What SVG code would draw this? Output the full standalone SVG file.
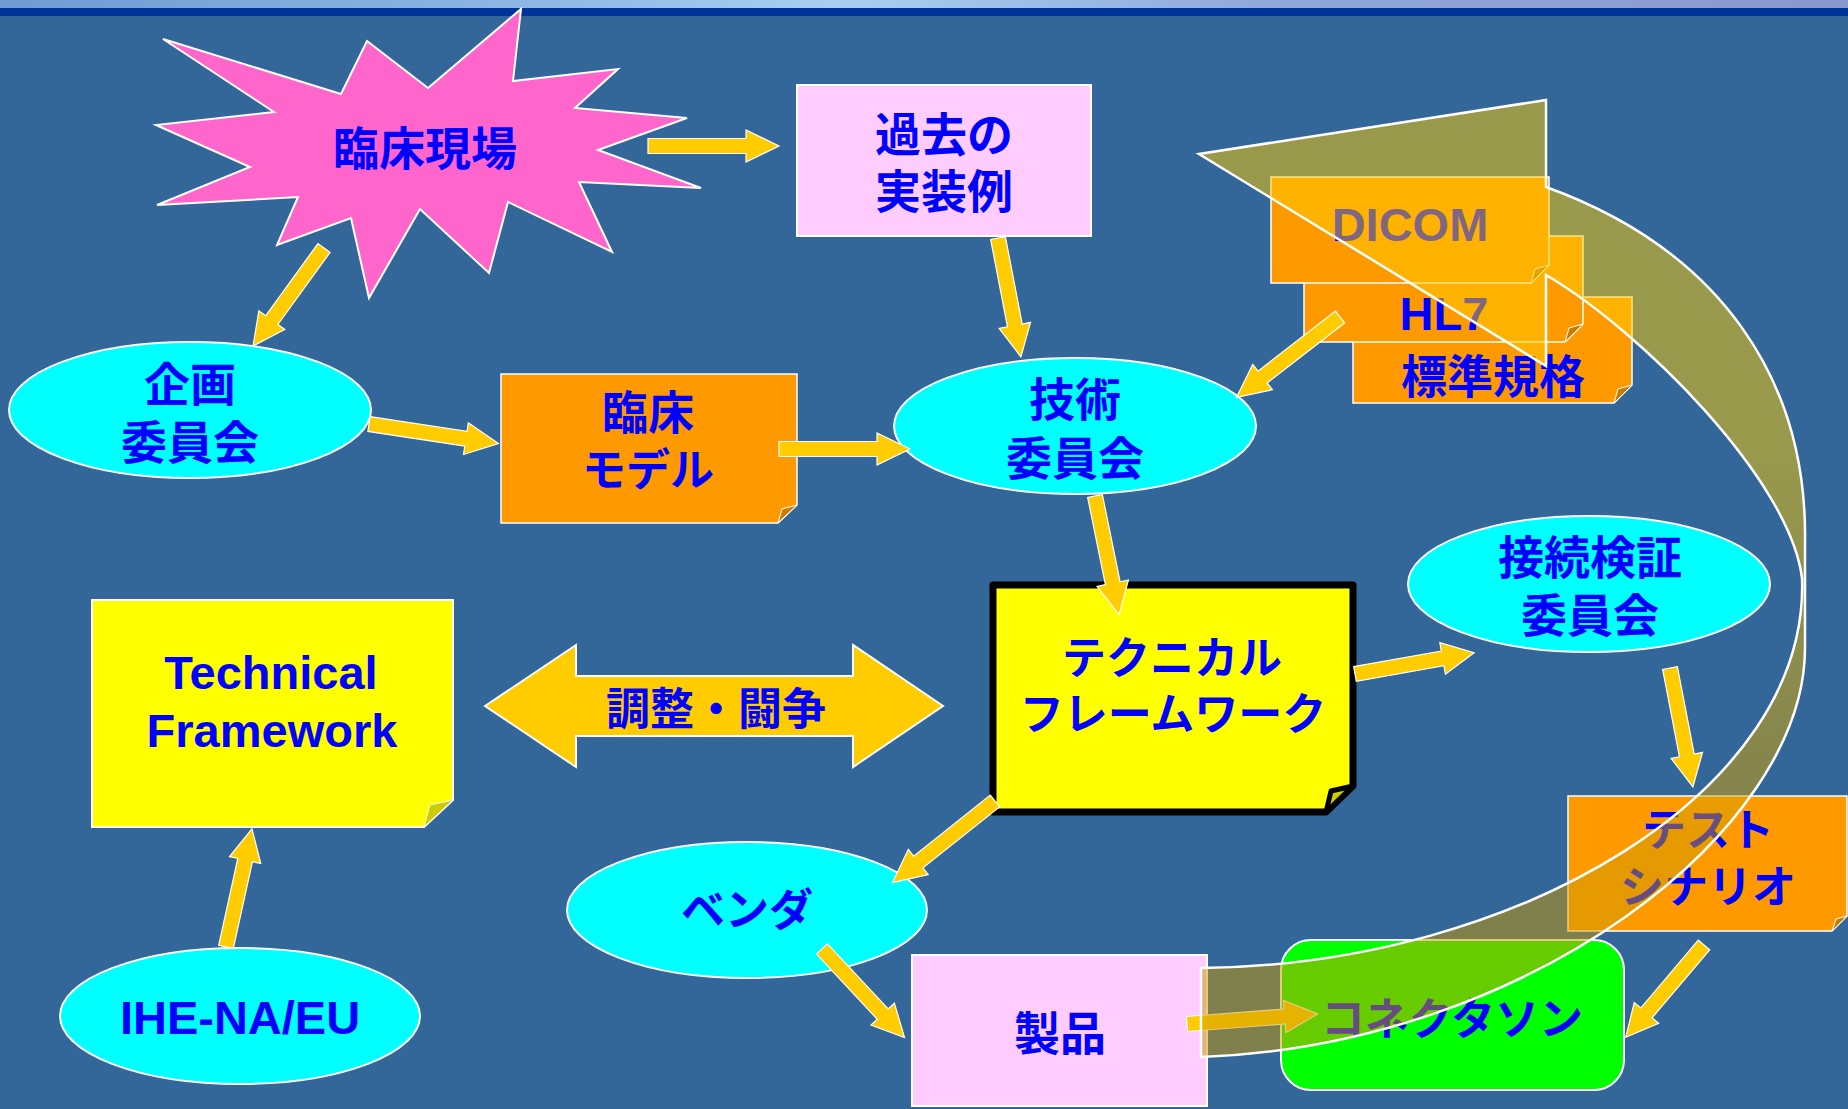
<svg xmlns="http://www.w3.org/2000/svg" width="1848" height="1109" viewBox="0 0 1848 1109">
<style>
.jp{font-family:"Noto Sans CJK JP","Noto Sans CJK SC",sans-serif;font-weight:700;fill:#0000FF;text-anchor:middle}
.en{font-family:"Liberation Sans",Arial,sans-serif;font-weight:700;fill:#0000FF;text-anchor:middle;font-size:47px}
.k{font-size:46px}
.kt{font-size:44px}
.arrow{fill:#FFCC00;stroke:#FFFFFF;stroke-width:1.2}
.ell{fill:#00FFFF;stroke:#FFFFFF;stroke-width:2}
.pink{fill:#FFCCFF;stroke:#FFFFFF;stroke-width:2}
.org{fill:#FF9900;stroke:#FFFFFF;stroke-width:1.5}
.fold{fill:#CC7A00;stroke:#FFFFFF;stroke-width:1}
</style>
<defs>
<linearGradient id="banner" x1="0" y1="0" x2="1" y2="0">
<stop offset="0" stop-color="#6E9BD2"/>
<stop offset="0.3" stop-color="#8FB8E6"/>
<stop offset="0.45" stop-color="#A8CFF2"/>
<stop offset="0.7" stop-color="#8FA6DA"/>
<stop offset="1" stop-color="#8C98D0"/>
</linearGradient>
<linearGradient id="cyc" gradientUnits="userSpaceOnUse" x1="0" y1="450" x2="0" y2="860">
<stop offset="0" stop-color="#FFCC00"/>
<stop offset="1" stop-color="#CC9900"/>
</linearGradient>
<polygon id="a121" class="arrow" points="0,-7.5 89,-7.5 89,-16 121,0 89,16 89,7.5 0,7.5"/>
<polygon id="a131" class="arrow" points="0,-7.5 98,-7.5 98,-16 131,0 98,16 98,7.5 0,7.5"/>
</defs>
<rect x="0" y="0" width="1848" height="1109" fill="#336699"/>
<rect x="0" y="0" width="1848" height="8" fill="url(#banner)"/>
<rect x="0" y="8" width="1848" height="8" fill="#003399"/>

<g id="rinsho-genba">
<polygon points="163,39 341,94 367,41 428,88 521,9 513,81 618,69 575,108 687,118 598,150 701,188 579,182 612,252 508,202 489,273 420,209 369,298 351,218 277,245 298,197 157,205 250,167 156,125 274,112" fill="#FF66CC" stroke="#FFFFFF" stroke-width="2"/>
<text class="jp k" x="425" y="165">臨床現場</text>
</g>

<g id="kako-jissourei">
<rect class="pink" x="797" y="85" width="294" height="151"/>
<text class="jp k" x="944" y="151">過去の</text>
<text class="jp k" x="944" y="208">実装例</text>
</g>

<g id="kikaku-iinkai">
<ellipse class="ell" cx="190" cy="410" rx="181" ry="68"/>
<text class="jp k" x="190" y="401">企画</text>
<text class="jp k" x="190" y="459">委員会</text>
</g>

<g id="rinsho-model">
<path class="org" d="M501,374 H797 V505 L778,523 H501 Z"/>
<polygon class="fold" points="797,505 782,509 778,523"/>
<text class="jp k" x="648" y="429">臨床</text>
<text class="jp kt" x="648" y="486">モデル</text>
</g>

<g id="gijutsu-iinkai">
<ellipse class="ell" cx="1075" cy="426" rx="181" ry="68"/>
<text class="jp k" x="1075" y="416">技術</text>
<text class="jp k" x="1075" y="475">委員会</text>
</g>

<g id="hyojun-kikaku">
<path class="org" d="M1353,297 H1632 V385 L1614,403 H1353 Z"/>
<polygon class="fold" points="1632,385 1618,389 1614,403"/>
<text class="jp k" x="1493" y="393">標準規格</text>
</g>

<g id="hl7">
<path class="org" d="M1304,236 H1583 V324 L1565,342 H1304 Z"/>
<polygon class="fold" points="1583,324 1569,328 1565,342"/>
<text class="en" x="1444" y="330">HL7</text>
</g>

<g id="dicom">
<path class="org" d="M1271,177 H1549 V265 L1531,283 H1271 Z"/>
<polygon class="fold" points="1549,265 1535,269 1531,283"/>
<text class="en" x="1410" y="241">DICOM</text>
</g>

<g id="technical-framework-jp">
<path d="M993,585 H1353 V786 L1326,812 H993 Z" fill="#FFFF00" stroke="#000000" stroke-width="7" stroke-linejoin="round"/>
<polygon points="1353,786 1331,791 1326,812" fill="#CCCC00" stroke="#000000" stroke-width="5" stroke-linejoin="round"/>
<text class="jp kt" x="1172" y="674">テクニカル</text>
<text class="jp kt" x="1173" y="730">フレームワーク</text>
</g>

<g id="setsuzoku-kensho-iinkai">
<ellipse class="ell" cx="1589" cy="584" rx="181" ry="68"/>
<text class="jp k" x="1590" y="574">接続検証</text>
<text class="jp k" x="1590" y="632">委員会</text>
</g>

<g id="technical-framework-en">
<path d="M92,600 H453 V800 L424,827 H92 Z" fill="#FFFF00" stroke="#FFFFFF" stroke-width="2"/>
<polygon points="453,800 430,805 424,827" fill="#CCCC00" stroke="#FFFFFF" stroke-width="1"/>
<text class="en" x="271" y="689">Technical</text>
<text class="en" x="272" y="747">Framework</text>
</g>

<g id="chosei-toso">
<polygon points="485,706 576,645 576,676 853,676 853,645 943,706 853,767 853,736 576,736 576,767" fill="#FFCC00" stroke="#FFFFFF" stroke-width="2"/>
<text class="jp kt" x="716" y="725">調整・闘争</text>
</g>

<g id="ihe-na-eu">
<ellipse class="ell" cx="240" cy="1016" rx="180" ry="68"/>
<text class="en" x="240" y="1034">IHE-NA/EU</text>
</g>

<g id="vendor">
<ellipse class="ell" cx="747" cy="910" rx="180" ry="68"/>
<text class="jp kt" x="747" y="926">ベンダ</text>
</g>

<g id="seihin">
<rect class="pink" x="912" y="955" width="295" height="151"/>
<text class="jp k" x="1060" y="1050">製品</text>
</g>

<g id="test-scenario">
<path class="org" d="M1568,796 H1847 V916 L1832,931 H1568 Z"/>
<polygon class="fold" points="1847,916 1836,919 1832,931"/>
<text class="jp kt" x="1708" y="846">テスト</text>
<text class="jp kt" x="1708" y="903">シナリオ</text>
</g>

<g id="connectathon">
<rect x="1281" y="940" width="343" height="150" rx="30" ry="30" fill="#00FF00" stroke="#FFFFFF" stroke-width="2"/>
<text class="jp kt" x="1452" y="1035">コネクタソン</text>
</g>

<g id="connectors">
<use href="#a131" transform="translate(648,146)"/>
<use href="#a121" transform="translate(324,248) rotate(125.9)"/>
<use href="#a131" transform="translate(369,424) rotate(8.6)"/>
<use href="#a131" transform="translate(779,449)"/>
<use href="#a121" transform="translate(998,238) rotate(79.1)"/>
<use href="#a131" transform="translate(1340,317) rotate(142.2)"/>
<use href="#a121" transform="translate(1095,496) rotate(78.5)"/>
<use href="#a121" transform="translate(1355,674) rotate(-10.1)"/>
<use href="#a121" transform="translate(1670,668) rotate(79.1)"/>
<use href="#a121" transform="translate(1704,945) rotate(130.3)"/>
<use href="#a131" transform="translate(1187,1024) rotate(-4.4)"/>
<use href="#a131" transform="translate(995,801) rotate(141.5)"/>
<use href="#a121" transform="translate(822,949) rotate(47)"/>
<use href="#a121" transform="translate(226,947) rotate(-77.6)"/>
<path id="cycle-arrow" d="M1201,968 C1520,965 1810,790 1802,578 C1790,480 1640,330 1546,275 L1546,366 L1199,154 L1546,100 L1546,187 C1720,250 1808,380 1805,544 L1805,648 C1805,830 1530,1045 1201,1057 Z" fill="url(#cyc)" fill-opacity="0.5" stroke="#FFFFFF" stroke-width="2.5" stroke-linejoin="miter"/>
</g>
</svg>
